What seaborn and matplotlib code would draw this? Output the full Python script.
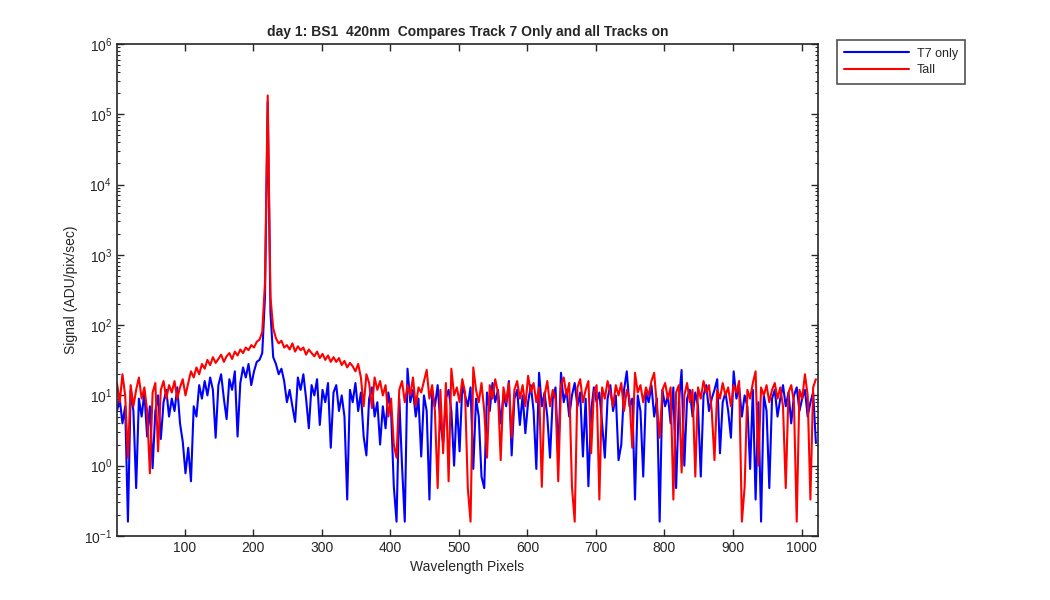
import numpy as np
import pandas as pd
import matplotlib
matplotlib.use("Agg")
import matplotlib.pyplot as plt
import seaborn as sns

# sampling grid of the spectrum (every 4th detector pixel)
pixels = np.arange(1, 1025, 4)

# T7 only (blue) in 16-value chunks
t7_only = [
    6, 9, 4, 7, 0.16, 12, 6, 0.48, 9, 5, 11, 2.6, 7, 0.92, 6, 10,
    2.4, 8, 12, 5, 9, 6, 13, 4, 2.2, 0.78, 1.8, 0.6, 7, 5, 14, 9,
    16, 10, 18, 12, 2.5, 14, 20, 9, 4.6, 17, 12, 22, 2.6, 15, 25, 18,
    28, 14, 22, 30, 32, 40, 250, 150000, 150, 35, 28, 20, 24, 16, 8, 12,
    7, 4.2, 18, 12, 20, 9, 3.4, 14, 10, 17, 3.8, 12, 8, 15, 1.8, 11,
    14, 6, 10, 5, 0.33, 12, 8, 15, 6, 11, 2.6, 1.4, 9, 13, 5, 8,
    2.0, 7, 3.4, 11, 6, 0.51, 0.16, 9, 1.0, 0.16, 24, 8, 12, 5, 9, 1.35,
    10, 6, 0.33, 11, 7, 14, 4, 2.1, 9, 12, 6, 1.0, 8, 1.6, 14, 10,
    7, 13, 0.9, 9, 5, 0.7, 0.48, 11, 6, 15, 8, 12, 4, 10, 7, 16,
    1.4, 9, 12, 3.8, 10, 2.9, 8, 14, 6, 0.9, 21, 7, 11, 5, 1.3, 9,
    13, 1.4, 21, 8, 12, 5, 10, 15, 7, 11, 1.35, 9, 0.51, 6, 13, 8,
    11, 4, 1.3, 9, 14, 6, 10, 1.2, 2.0, 12, 22, 7, 9, 0.33, 10, 6,
    0.7, 11, 8, 14, 5, 9, 0.16, 12, 7, 10, 4, 13, 0.48, 8, 23, 1.0,
    9, 12, 5, 11, 7, 0.7, 10, 14, 6, 9, 12, 17, 1.5, 8, 11, 6,
    2.5, 22, 9, 13, 5, 10, 7, 0.9, 12, 0.33, 8, 0.16, 10, 6, 0.48, 9,
    12, 5, 9, 14, 7, 11, 4, 10, 13, 6, 9, 12, 5, 8, 11, 2.1,
]

# all tracks on (red)
t_all = [
    15, 8, 20, 10, 1.3, 14, 7, 12, 18, 9, 13, 6, 0.78, 11, 15, 1.6,
    12, 16, 9, 14, 11, 16, 9, 13, 17, 10, 15, 22, 18, 25, 20, 28,
    24, 32, 27, 35, 29, 33, 38, 30, 36, 40, 33, 42, 37, 45, 40, 48,
    44, 52, 48, 58, 62, 80, 400, 185000, 250, 90, 65, 55, 60, 48, 52, 45,
    55, 42, 50, 44, 48, 38, 45, 40, 36, 42, 34, 39, 32, 37, 30, 35,
    30, 34, 27, 31, 25, 29, 26, 22, 28, 18, 7, 20, 15, 6.6, 18, 12,
    16, 10, 14, 5, 9, 2.0, 1.3, 12, 16, 8, 14, 10, 18, 7, 13, 11,
    16, 23, 9, 14, 6, 0.48, 12, 1.5, 15, 0.6, 24, 10, 13, 8, 17, 11,
    0.48, 0.16, 25, 12, 8, 15, 6, 1.3, 14, 9, 17, 11, 1.2, 13, 8, 15,
    2.5, 12, 16, 9, 14, 7, 19, 11, 15, 8, 13, 0.5, 10, 16, 7, 12,
    9, 0.6, 14, 18, 10, 15, 0.5, 0.16, 13, 17, 8, 12, 16, 1.5, 11, 14,
    0.33, 13, 9, 16, 11, 7, 14, 10, 15, 6, 12, 9, 1.8, 21, 11, 14,
    8, 13, 10, 16, 21, 7, 2.5, 12, 15, 9, 13, 0.33, 11, 14, 0.8, 10,
    15, 8, 12, 0.7, 13, 9, 16, 11, 14, 6, 1.2, 12, 9, 15, 10, 13,
    7, 14, 11, 16, 0.16, 0.5, 12, 9, 15, 22, 1.0, 13, 10, 14, 8, 12,
    15, 9, 13, 7, 0.48, 11, 14, 8, 0.16, 12, 9, 20, 10, 0.33, 13, 17,
]

title = "day 1: BS1  420nm  Compares Track 7 Only and all Tracks on"
x_ticks = [100, 200, 300, 400, 500, 600, 700, 800, 900, 1000]


def setup_style():
    sns.set_theme(style="ticks")
    plt.rcParams['font.family'] = ['Liberation Sans', 'DejaVu Sans']
    plt.rcParams['font.size'] = 10
    plt.rcParams['axes.edgecolor'] = '#262626'
    plt.rcParams['xtick.color'] = '#262626'
    plt.rcParams['ytick.color'] = '#262626'


def main():
    setup_style()
    df = pd.DataFrame({'pixel': pixels, 'T7 only': t7_only, 'Tall': t_all})

    fig = plt.figure(figsize=(10.5, 6), dpi=100)
    ax = fig.add_axes([0.1114, 0.1067, 0.6676, 0.82])

    sns.lineplot(data=df, x='pixel', y='T7 only', color='#0000ff', linewidth=1.5,
                 estimator=None, sort=False, label='T7 only', ax=ax)
    sns.lineplot(data=df, x='pixel', y='Tall', color='#ff0000', linewidth=1.5,
                 estimator=None, sort=False, label='Tall', ax=ax)

    ax.set_yscale('log')
    ax.set_ylim(0.1, 1e6)
    ax.set_xlim(1, 1024)
    ax.set_xticks(x_ticks)
    ax.tick_params(which='both', direction='in', top=True, right=True, labelsize=10)
    ax.tick_params(which='major', length=5, width=1)
    ax.tick_params(which='minor', length=2.5, width=0.8)
    for sp in ax.spines.values():
        sp.set_linewidth(1.2)

    ax.set_title(title, fontsize=10, fontweight='bold', pad=6)
    ax.set_xlabel('Wavelength Pixels', fontsize=10)
    ax.set_ylabel('Signal (ADU/pix/sec)', fontsize=10)

    ax.get_legend().remove()
    handles, labels = ax.get_legend_handles_labels()
    leg = fig.legend(handles, labels, loc='upper left', bbox_to_anchor=(0.797, 0.933),
                     frameon=True, fancybox=False, edgecolor='#262626', fontsize=9,
                     handlelength=5.2, borderpad=0.6, labelspacing=0.35,
                     handletextpad=0.6, borderaxespad=0)
    leg.get_frame().set_linewidth(1.2)

    fig.savefig('out.png', dpi=100, facecolor='white')
    plt.close(fig)


if __name__ == "__main__":
    main()
